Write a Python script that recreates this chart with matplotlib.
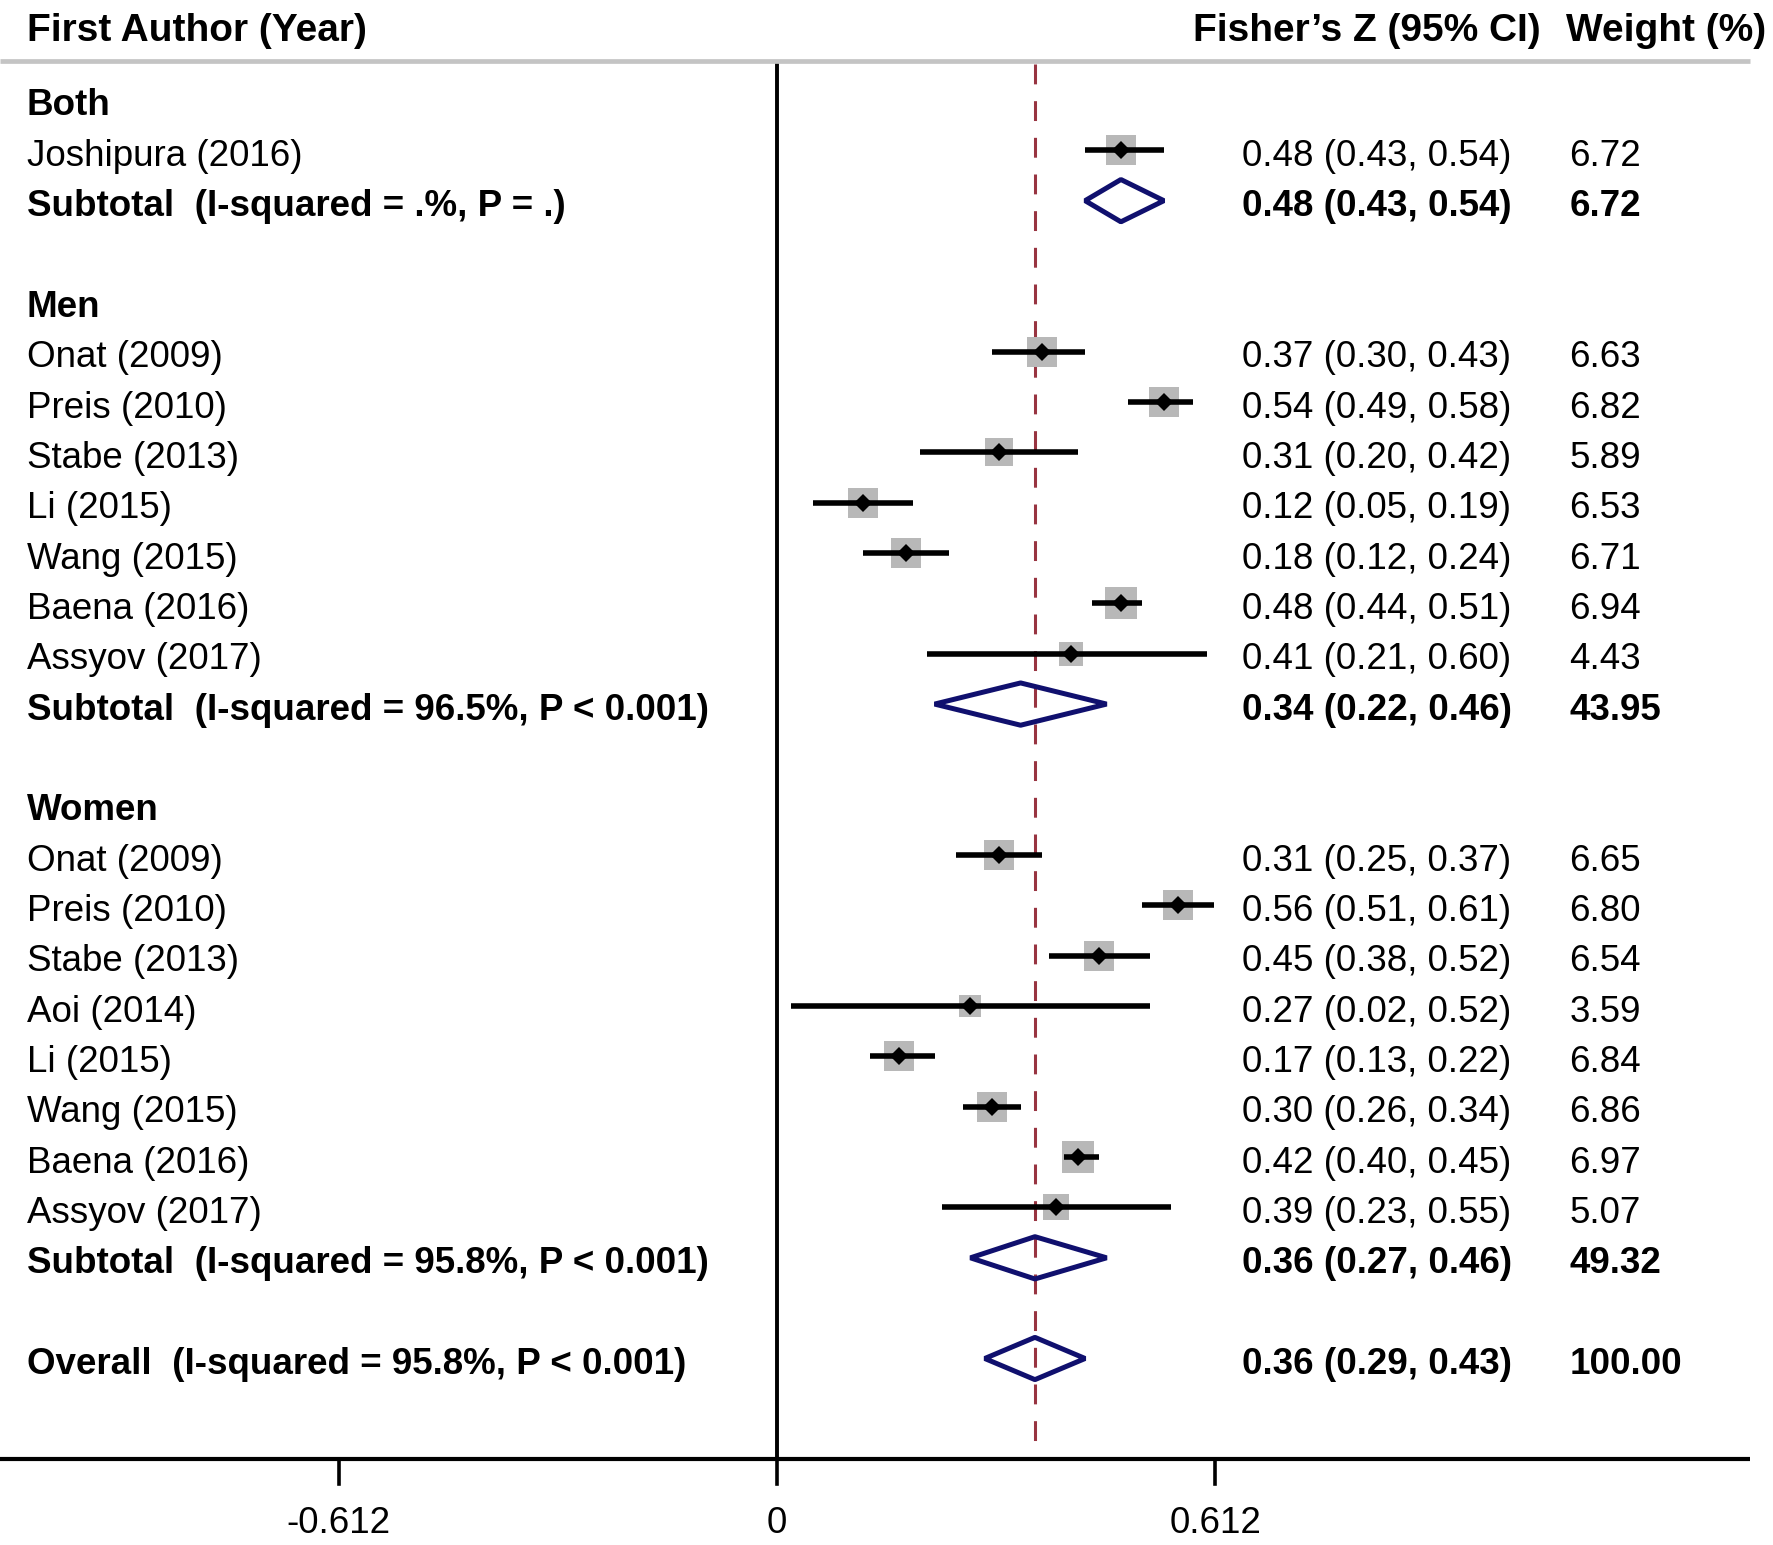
import matplotlib
matplotlib.use("Agg")
import matplotlib.pyplot as plt
from matplotlib.patches import Polygon
import numpy as np

plt.rcParams['font.family'] = ['Liberation Sans', 'DejaVu Sans']

# ---- data ----
groups = ["Both", "Men", "Women"]
both_studies = ["Joshipura (2016)"]
both_est = [0.48]; both_lo = [0.43]; both_hi = [0.54]; both_w = [6.72]
both_sub = (0.48, 0.43, 0.54, 6.72, "Subtotal  (I-squared = .%, P = .)")

men_studies = ["Onat (2009)", "Preis (2010)", "Stabe (2013)", "Li (2015)",
               "Wang (2015)", "Baena (2016)", "Assyov (2017)"]
men_est = [0.37, 0.54, 0.31, 0.12, 0.18, 0.48, 0.41]
men_lo = [0.30, 0.49, 0.20, 0.05, 0.12, 0.44, 0.21]
men_hi = [0.43, 0.58, 0.42, 0.19, 0.24, 0.51, 0.60]
men_w = [6.63, 6.82, 5.89, 6.53, 6.71, 6.94, 4.43]
men_sub = (0.34, 0.22, 0.46, 43.95, "Subtotal  (I-squared = 96.5%, P < 0.001)")

women_studies = ["Onat (2009)", "Preis (2010)", "Stabe (2013)", "Aoi (2014)",
                 "Li (2015)", "Wang (2015)", "Baena (2016)", "Assyov (2017)"]
women_est = [0.31, 0.56, 0.45, 0.27, 0.17, 0.30, 0.42, 0.39]
women_lo = [0.25, 0.51, 0.38, 0.02, 0.13, 0.26, 0.40, 0.23]
women_hi = [0.37, 0.61, 0.52, 0.52, 0.22, 0.34, 0.45, 0.55]
women_w = [6.65, 6.80, 6.54, 3.59, 6.84, 6.86, 6.97, 5.07]
women_sub = (0.36, 0.27, 0.46, 49.32, "Subtotal  (I-squared = 95.8%, P < 0.001)")

overall = (0.36, 0.29, 0.43, 100.00, "Overall  (I-squared = 95.8%, P < 0.001)")

tick_vals = [-0.612, 0, 0.612]
tick_labels = ["-0.612", "0", "0.612"]

# ---- layout (figure pixels -> data) ----
W, H = 1773, 1545
DPI = 100
x0_px, unit_px = 777.0, 716.5
row0_px, row_px = 100.0, 50.34

def px2x(p):
    return (p - x0_px) / unit_px

def px2y(p):
    return (p - row0_px) / row_px

fig = plt.figure(figsize=(W / DPI, H / DPI), dpi=DPI)
ax = fig.add_axes([0, 0, 1, 1])
ax.set_xlim(px2x(0), px2x(W))
ax.set_ylim(px2y(H), px2y(0))
ax.axis('off')

FS = 26.5
FSH = 28.0
BASE = 15.5 / row_px   # baseline offset below row centre
label_x = px2x(27)
est_x = px2x(1241.5)
w_x = px2x(1569.5)

navy = '#10106e'
maroon = '#983441'
grey = '#b8b8b8'

axis_y = px2y(1459)
top_y = px2y(64)

# header
hy = px2y(41)
ax.text(label_x, hy, "First Author (Year)", fontsize=FSH, fontweight='bold',
        ha='left', va='baseline')
ax.text(px2x(1193), hy, "Fisher\u2019s Z (95% CI)", fontsize=FSH, fontweight='bold',
        ha='left', va='baseline')
ax.text(px2x(1566), hy, "Weight (%)", fontsize=FSH, fontweight='bold',
        ha='left', va='baseline')
ax.plot([px2x(0), px2x(1750)], [px2y(61), px2y(61)], color='#c4c4c4', lw=3.4,
        solid_capstyle='butt')

# reference lines
ax.plot([0, 0], [top_y, axis_y], color='black', lw=2.8, zorder=1)
ax.plot([overall[0], overall[0]], [top_y, axis_y], color=maroon, lw=2.2,
        dashes=(6.5, 5.5), zorder=1)

def fmt(e, l, h):
    return f"{e:.2f} ({l:.2f}, {h:.2f})"

def put(x, row, s, bold=False):
    ax.text(x, row + BASE, s, fontsize=FS, fontweight='bold' if bold else 'normal',
            ha='left', va='baseline')

def draw_study(row, name, e, l, h, w):
    put(label_x, row, name)
    side = 22.0 * np.sqrt(w / 6.72)
    ax.plot([e], [row], marker='s', markersize=side, color=grey, mew=0, zorder=2)
    ax.plot([l, h], [row, row], color='black', lw=4.0, solid_capstyle='butt', zorder=3)
    ax.plot([e], [row], marker='D', markersize=9.5, color='black', mew=0, zorder=4)
    put(est_x, row, fmt(e, l, h))
    put(w_x, row, f"{w:.2f}")

def draw_diamond(row, sub):
    e, l, h, w, lab = sub
    hh = 0.42
    poly = Polygon([[l, row], [e, row - hh], [h, row], [e, row + hh]], closed=True,
                   fill=False, edgecolor=navy, lw=3.6, joinstyle='bevel', zorder=3)
    ax.add_patch(poly)
    put(label_x, row, lab, bold=True)
    put(est_x, row, fmt(e, l, h), bold=True)
    put(w_x, row, f"{w:.2f}", bold=True)

row = 0
for gname, studs, es, ls, hs, ws, sub in [
        ("Both", both_studies, both_est, both_lo, both_hi, both_w, both_sub),
        ("Men", men_studies, men_est, men_lo, men_hi, men_w, men_sub),
        ("Women", women_studies, women_est, women_lo, women_hi, women_w, women_sub)]:
    put(label_x, row, gname, bold=True)
    row += 1
    for n, e, l, h, w in zip(studs, es, ls, hs, ws):
        draw_study(row, n, e, l, h, w)
        row += 1
    draw_diamond(row, sub)
    row += 2

draw_diamond(row, overall)

# x axis
ax.plot([px2x(0), px2x(1750)], [axis_y, axis_y], color='black', lw=3.0,
        solid_capstyle='butt', zorder=5)
tick_bot = px2y(1484)
for tv, tl in zip(tick_vals, tick_labels):
    ax.plot([tv, tv], [axis_y, tick_bot], color='black', lw=2.6)
    ax.text(tv, px2y(1533), tl, fontsize=FS, ha='center', va='baseline')

fig.savefig("out.png", dpi=DPI)
